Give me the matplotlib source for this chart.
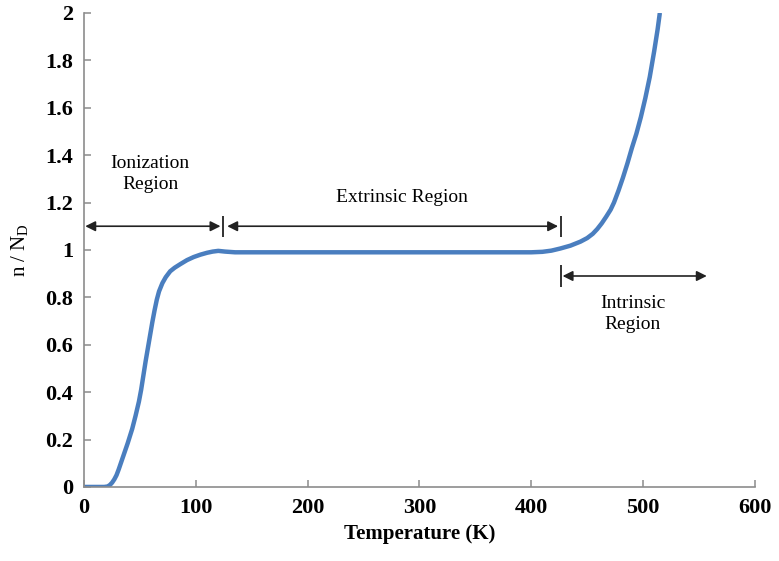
import matplotlib
matplotlib.use('Agg')
import matplotlib.pyplot as plt

plt.rcParams['font.family'] = ['Liberation Serif', 'DejaVu Serif']
plt.rcParams['mathtext.fontset'] = 'custom'
plt.rcParams['mathtext.rm'] = 'Liberation Serif'

# electron concentration vs temperature
temp = [0, 10, 18, 21, 23, 25, 27, 29, 31, 35, 39, 43, 46, 49, 51, 53, 55, 57, 59,
        61, 63, 65, 67, 70, 73, 77, 81, 86, 92, 98, 104, 110, 115, 120, 126, 135,
        150, 200, 250, 300, 350, 400, 410, 418, 426, 435, 444, 450, 455, 459, 463,
        467, 471, 474, 478, 482, 486, 490, 494, 498, 502, 506, 510, 513, 515]
n_ratio = [0, 0, 0, 0.002, 0.008, 0.018, 0.032, 0.05, 0.075, 0.13, 0.185, 0.245,
           0.30, 0.36, 0.41, 0.47, 0.53, 0.585, 0.64, 0.695, 0.745, 0.79, 0.825,
           0.86, 0.885, 0.91, 0.925, 0.94, 0.957, 0.97, 0.98, 0.988, 0.993, 0.996,
           0.993, 0.99, 0.99, 0.99, 0.99, 0.99, 0.99, 0.99, 0.992, 0.997, 1.006,
           1.018, 1.035, 1.05, 1.068, 1.088, 1.112, 1.14, 1.17, 1.2, 1.25, 1.305,
           1.365, 1.43, 1.49, 1.56, 1.64, 1.73, 1.84, 1.93, 2.0]

# region arrows: (start, end, height)
regions = [(1, 122, 1.1), (128, 424, 1.1), (428, 557, 0.89)]
bars = [(124.5, 1.1), (427, 1.1), (427, 0.89)]
labels = [('Ionization\nRegion', 59, 1.32), ('Extrinsic Region', 284, 1.22),
          ('Intrinsic\nRegion', 491, 0.73)]

fig = plt.figure(figsize=(7.79, 5.61), dpi=100)
ax = fig.add_axes([0.108, 0.132, 0.861, 0.845])

ax.plot(temp, n_ratio, color='#4a7ebf', lw=3.2, solid_capstyle='butt',
        solid_joinstyle='round')

for x0, x1, y in regions:
    ax.annotate('', xy=(x1, y), xytext=(x0, y),
                arrowprops=dict(arrowstyle='<|-|>,head_length=0.6,head_width=0.3',
                                color='#222222', lw=1.2, mutation_scale=10,
                                shrinkA=0, shrinkB=0))
for x, y in bars:
    ax.vlines(x, y - 0.045, y + 0.045, color='#222222', lw=1.3)

for txt, x, y in labels:
    ax.text(x, y, txt, ha='center', va='center', fontsize=14, linespacing=1.3)

ax.set_xlim(0, 600)
ax.set_ylim(0, 2)
ax.set_xticks(range(0, 601, 100))
ax.set_yticks([0, 0.2, 0.4, 0.6, 0.8, 1, 1.2, 1.4, 1.6, 1.8, 2])
ax.set_yticklabels(['0', '0.2', '0.4', '0.6', '0.8', '1', '1.2', '1.4', '1.6', '1.8', '2'])

for s in ['top', 'right']:
    ax.spines[s].set_visible(False)
for s in ['left', 'bottom']:
    ax.spines[s].set_color('#8c8c8c')
    ax.spines[s].set_linewidth(1.2)
ax.tick_params(direction='in', length=5, width=1.1, color='#8c8c8c',
               labelsize=16, pad=8)
for lbl in ax.get_xticklabels() + ax.get_yticklabels():
    lbl.set_fontweight('bold')

ax.set_xlabel('Temperature (K)', fontsize=15, fontweight='bold', labelpad=4)
ax.set_ylabel(r'n / N$_{\rm D}$', fontsize=15, labelpad=10)

fig.savefig('out.png', dpi=100)
